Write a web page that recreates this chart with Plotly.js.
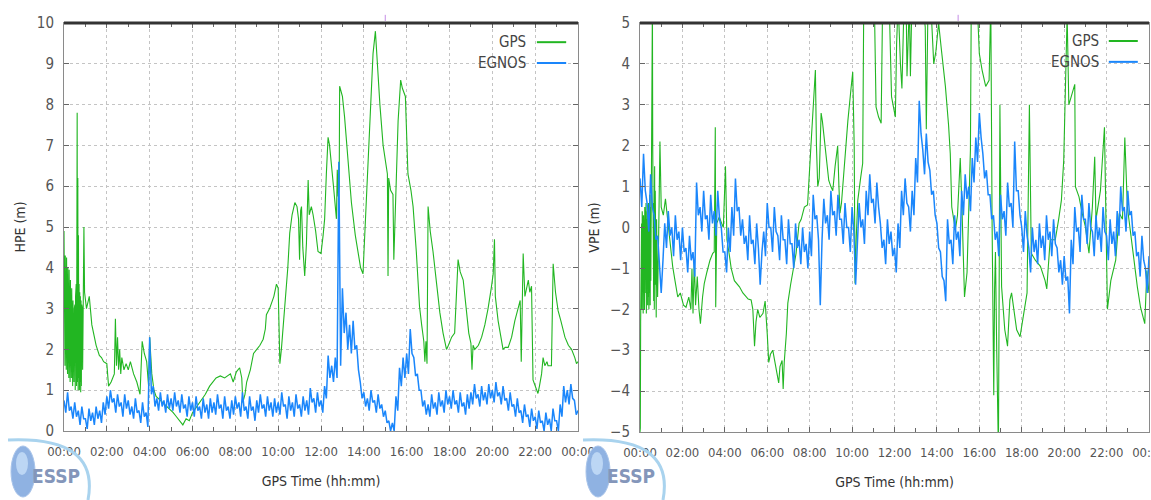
<!DOCTYPE html>
<html>
<head>
<meta charset="utf-8">
<script src="https://cdn.plot.ly/plotly-3.0.1.min.js"></script>
<style>html,body{margin:0;padding:0;background:#fff;}#chart{width:1151px;height:500px;}</style>
</head>
<body>
<div id="chart"></div>
<script>
// ---- tick labels ----
var hourTicks = [0,2,4,6,8,10,12,14,16,18,20,22,24];
var hourLabels = ["00:00","02:00","04:00","06:00","08:00","10:00","12:00","14:00","16:00","18:00","20:00","22:00","00:00"];
var minorTicks = [1,3,5,7,9,11,13,15,17,19,21,23];
var seriesNames = ["GPS","EGNOS"];

// ---- HPE: GPS (irregular times, hours) ----
var gpsHpeT = [0.000,0.015,0.030,0.045,0.060,0.075,0.090,0.105,0.120,0.135,0.150,0.165,0.180,0.195,0.210,0.225,0.240,0.255,0.270,0.285,0.300,0.315,0.330,0.345,0.360,0.375,0.390,0.405,0.420,0.435,0.450,0.465,0.480,0.495,0.510,0.525,0.540,0.555,0.570,0.585,0.600,0.615,0.630,0.645,0.660,0.675,0.690,0.705,0.720,0.735,0.750,0.765,0.780,0.795,0.810,0.825,0.840,0.855,0.870,0.885,0.900,0.93,0.96,1.05,1.18,1.3,1.5,1.65,1.75,1.85,2.0,2.08,2.2,2.35,2.4,2.45,2.5,2.55,2.6,2.65,2.7,2.8,2.9,3.0,3.1,3.25,3.4,3.55,3.65,3.75,3.86,3.95,4.0,4.1,4.2,4.3,4.5,4.7,4.95,5.1,5.25,5.4,5.55,5.7,5.85,6.0,6.2,6.35,6.6,6.8,6.97,7.1,7.3,7.5,7.77,7.9,8.05,8.2,8.3,8.35,8.45,8.53,8.7,8.85,9.0,9.15,9.3,9.4,9.45,9.6,9.8,9.92,10.0,10.08,10.15,10.3,10.45,10.54,10.65,10.78,10.88,10.95,11.0,11.05,11.09,11.15,11.24,11.32,11.4,11.45,11.55,11.63,11.75,11.86,12.0,12.1,12.17,12.25,12.33,12.4,12.48,12.6,12.72,12.76,12.8,12.85,12.87,13.0,13.1,13.25,13.42,13.6,13.73,13.85,13.96,14.1,14.2,14.3,14.43,14.54,14.63,14.75,14.9,15.05,15.1,15.13,15.16,15.25,15.36,15.4,15.5,15.6,15.72,15.8,15.94,16.06,16.2,16.3,16.45,16.6,16.7,16.8,16.85,16.9,16.95,17.0,17.1,17.23,17.4,17.55,17.7,17.86,17.95,18.1,18.24,18.3,18.4,18.5,18.64,18.8,18.9,19.0,19.05,19.1,19.18,19.35,19.5,19.65,19.8,19.95,20.04,20.1,20.14,20.27,20.4,20.5,20.6,20.74,20.9,21.05,21.2,21.3,21.35,21.4,21.44,21.52,21.6,21.68,21.75,21.83,21.9,22.0,22.13,22.2,22.3,22.37,22.45,22.55,22.6,22.76,22.84,22.95,23.07,23.2,23.39,23.55,23.7,23.85,23.93,24.0];
var gpsHpeV = [4.9,1.9,4.4,1.6,4.3,2.1,4.2,1.5,4.25,1.8,4.1,1.4,4.0,2.0,3.9,1.3,3.95,1.7,3.8,1.2,3.7,1.9,3.6,1.3,3.5,1.6,3.3,1.1,3.2,1.8,3.1,1.2,3.0,1.5,3.1,1.0,3.3,1.4,3.6,1.1,4.5,7.8,1.2,6.2,1.0,4.8,1.3,3.6,1.0,3.4,1.2,3.3,0.95,3.2,1.1,3.1,1.3,3.0,1.5,3.2,2.0,5.0,3.4,3.0,3.3,2.6,2.1,1.85,1.8,1.7,1.65,1.1,1.2,1.4,2.75,1.6,2.3,1.5,2.0,1.4,1.8,1.5,1.65,1.5,1.7,1.4,1.2,0.9,2.2,1.9,1.7,1.1,2.3,1.4,1.0,0.85,0.75,0.65,0.5,0.45,0.35,0.25,0.15,0.3,0.25,0.45,0.6,0.7,0.9,1.1,1.2,1.3,1.35,1.3,1.4,1.2,1.45,1.55,1.3,0.7,0.9,1.2,1.5,1.9,2.0,2.1,2.25,2.5,2.85,3.0,3.3,3.6,3.5,1.65,2.0,3.0,4.0,4.85,5.3,5.6,5.5,5.2,4.2,5.4,5.5,4.5,3.8,4.6,6.15,5.3,5.5,5.3,4.9,4.4,4.35,4.8,5.2,6.3,7.2,7.0,6.6,5.9,5.2,6.4,5.75,6.0,8.45,8.2,7.7,6.6,5.6,4.8,4.35,4.0,3.85,5.5,6.8,8.0,9.25,9.8,8.9,8.0,7.0,6.55,6.3,3.8,6.2,5.9,5.8,4.2,6.0,7.6,8.6,8.4,8.2,6.3,5.9,5.5,4.4,3.05,2.6,2.2,1.7,2.2,1.65,5.5,4.9,4.4,3.6,2.9,2.4,2.0,2.1,2.3,2.4,3.0,4.2,3.9,3.7,2.9,2.4,2.15,1.5,2.1,2.0,2.1,2.3,2.6,3.0,3.5,3.85,4.7,3.3,2.7,2.3,2.0,2.05,2.05,2.3,2.7,3.0,3.2,1.7,3.6,4.35,3.3,3.5,3.7,3.4,3.55,1.25,1.1,0.92,1.1,1.4,1.8,1.6,1.7,1.6,1.6,4.1,3.4,2.95,2.7,2.3,2.1,2.0,1.8,1.65,1.7];

// ---- HPE: EGNOS (one value every 5 minutes, 00:00 .. 24:00) ----
var egnosHpe = [
 0.75,0.45,0.95,0.5,0.6,0.3,0.7,0.35,0.5,0.15,0.6,0.3,
 0.3,0.05,0.55,0.25,0.45,0.15,0.6,0.3,0.5,0.2,0.7,0.4,
 0.85,0.55,1.0,0.7,0.8,0.45,0.9,0.6,0.7,0.35,0.9,0.55,
 0.75,0.4,0.6,0.3,0.8,0.45,0.5,0.2,0.7,0.35,0.45,0.1,
 2.3,0.9,1.1,0.6,0.8,0.5,0.95,0.6,0.75,0.45,0.9,0.55,
 0.8,0.5,0.95,0.6,0.75,0.45,0.9,0.55,0.65,0.35,0.85,0.5,
 0.7,0.35,0.85,0.5,0.6,0.3,0.8,0.45,0.65,0.3,0.8,0.45,
 0.7,0.4,0.9,0.55,0.65,0.3,0.85,0.5,0.6,0.3,0.75,0.4,
 0.85,0.55,0.7,0.35,0.95,0.5,0.6,0.3,0.85,0.5,0.6,0.25,
 0.75,0.45,0.9,0.55,0.65,0.35,0.85,0.5,0.7,0.35,0.8,0.45,
 0.7,0.4,0.95,0.6,0.65,0.3,0.85,0.5,0.7,0.35,0.9,0.55,
 0.65,0.35,0.85,0.5,0.75,0.4,1.05,0.7,0.8,0.45,0.95,0.6,
 0.75,0.45,1.1,0.8,1.85,1.3,1.6,1.2,1.8,1.3,6.6,1.6,
 3.5,2.4,2.9,2.0,2.6,1.9,2.7,2.0,2.1,1.5,1.2,0.8,
 0.95,0.6,0.8,0.5,1.0,0.7,0.75,0.45,0.9,0.55,0.65,0.35,
 0.5,0.2,0.25,0.0,0.2,0.0,0.85,0.5,1.55,1.1,1.8,1.3,
 1.9,1.4,2.5,1.9,1.8,1.35,1.4,1.0,1.0,0.6,0.75,0.4,
 0.65,0.35,0.9,0.55,0.7,0.4,0.95,0.6,0.75,0.45,1.0,0.65,
 0.85,0.55,1.0,0.65,0.75,0.45,0.95,0.6,0.7,0.4,0.9,0.55,
 0.95,0.65,1.15,0.8,0.9,0.6,1.1,0.75,0.95,0.65,1.15,0.8,
 1.0,0.7,1.2,0.85,0.95,0.65,1.1,0.75,0.8,0.5,0.95,0.6,
 0.65,0.35,0.8,0.45,0.5,0.2,0.65,0.35,0.4,0.1,0.55,0.25,
 0.35,0.05,0.5,0.2,0.25,0.0,0.45,0.15,0.3,0.0,0.55,0.25,
 0.25,0.0,0.65,0.35,1.1,0.7,1.0,0.65,1.15,0.8,0.75,0.4,
 0.5];

// ---- VPE: GPS (irregular times, hours) ----
var gpsVpeT = [0.000,0.015,0.030,0.045,0.060,0.075,0.090,0.105,0.120,0.135,0.150,0.165,0.180,0.195,0.210,0.225,0.240,0.255,0.270,0.285,0.300,0.315,0.330,0.345,0.360,0.375,0.390,0.405,0.420,0.435,0.450,0.465,0.480,0.495,0.510,0.525,0.540,0.555,0.570,0.585,0.600,0.615,0.630,0.645,0.660,0.675,0.690,0.705,0.720,0.735,0.750,0.765,0.780,0.795,0.810,0.830,0.88,0.94,1.0,1.1,1.2,1.3,1.4,1.54,1.65,1.78,1.9,2.05,2.17,2.3,2.4,2.45,2.5,2.56,2.62,2.7,2.78,2.85,2.95,3.03,3.15,3.3,3.43,3.5,3.55,3.57,3.62,3.74,3.85,3.93,4.03,4.1,4.2,4.3,4.45,4.6,4.69,4.85,5.0,5.1,5.24,5.32,5.4,5.47,5.55,5.65,5.8,5.9,6.0,6.07,6.15,6.26,6.33,6.4,6.48,6.54,6.6,6.7,6.75,6.8,6.9,6.97,7.1,7.2,7.36,7.5,7.6,7.75,7.9,8.06,8.17,8.27,8.32,8.38,8.45,8.54,8.6,8.7,8.8,8.9,9.0,9.09,9.2,9.32,9.38,9.43,9.5,9.56,9.7,9.8,9.95,10.03,10.1,10.14,10.2,10.27,10.4,10.5,10.55,10.7,10.9,11.05,11.13,11.25,11.37,11.44,11.6,11.75,11.86,11.95,12.04,12.1,12.17,12.28,12.35,12.45,12.55,12.59,12.7,12.75,12.82,13.0,13.15,13.3,13.45,13.5,13.58,13.7,13.85,13.95,14.08,14.2,14.4,14.55,14.63,14.7,14.87,14.97,15.03,15.1,15.18,15.3,15.42,15.5,15.58,15.62,15.8,15.9,16.0,16.13,16.3,16.46,16.54,16.6,16.68,16.72,16.76,16.82,16.86,16.9,16.93,16.97,17.05,17.2,17.33,17.44,17.52,17.6,17.76,17.92,18.1,18.25,18.36,18.45,18.64,18.88,19.1,19.18,19.34,19.58,19.74,19.87,19.98,20.06,20.14,20.22,20.38,20.5,20.53,20.7,20.85,21.0,21.17,21.33,21.44,21.5,21.71,21.9,22.04,22.2,22.43,22.6,22.75,22.86,22.98,23.2,23.45,23.6,23.8,23.9,24.0];
var gpsVpeV = [-5.0,-4.9,-2.3,-0.9,-2.2,0.1,-2.0,0.4,-1.9,-0.2,-2.1,0.3,-1.7,-0.4,-2.0,0.5,-1.8,0.0,-1.6,0.6,-2.1,0.2,-1.5,0.4,-1.9,-0.1,-1.7,0.6,-2.0,0.3,-1.6,0.8,-1.9,0.5,-1.3,1.2,-1.0,3.0,5.5,5.5,2.0,-1.6,1.0,-1.8,0.6,-2.0,1.5,-1.4,0.9,-1.9,0.4,-2.2,0.2,-1.7,-0.3,-1.7,-0.2,2.1,0.5,0.3,0.7,0.2,-0.4,-0.95,-1.3,-1.7,-1.6,-1.9,-1.95,-1.7,-2.0,-1.0,-2.1,-0.8,-1.9,-1.2,-2.0,-2.35,-1.7,-1.37,-1.1,-0.8,-0.63,-0.6,2.45,-1.95,0.1,0.26,0.1,0.0,1.5,-0.3,-0.63,-1.0,-1.3,-1.4,-1.45,-1.6,-1.7,-1.75,-1.77,-2.0,-2.9,-2.3,-2.0,-2.2,-2.1,-1.8,-2.6,-3.3,-3.1,-3.0,-3.2,-3.4,-3.6,-3.8,-3.4,-3.25,-3.95,-3.3,-2.6,-1.85,-1.4,-1.1,-0.63,0.1,0.2,0.5,0.55,2.0,3.05,3.85,2.0,1.0,1.2,2.8,2.6,2.15,1.6,1.15,1.0,0.9,1.5,2.0,1.0,0.35,0.6,1.0,2.0,2.6,3.4,3.8,2.0,-1.37,-0.2,0.67,1.2,1.57,5.5,6.0,5.8,5.5,2.95,2.7,2.55,5.5,6.0,5.5,3.2,2.9,2.7,4.5,5.5,4.0,3.4,5.5,5.5,3.7,5.5,3.7,5.5,5.6,5.5,5.6,4.9,2.4,5.5,5.6,4.0,4.3,5.0,4.4,3.45,2.5,1.8,0.5,-0.06,0.3,0.83,1.7,0.5,-1.7,-1.1,0.3,1.9,5.5,5.6,5.5,4.25,3.85,3.45,3.6,5.5,0.2,-4.1,-1.5,-0.6,-3.0,-5.5,-5.5,-2.0,3.0,-1.45,-2.5,-2.9,-1.77,-1.6,-1.95,-2.5,-2.67,-2.1,-1.6,3.0,-0.63,-0.8,-0.95,-1.3,-1.5,-0.3,-0.3,0.2,0.67,1.65,3.45,5.2,3.0,3.3,3.5,1.0,0.75,0.35,0.02,-0.63,0.5,1.73,0.2,0.9,2.45,-2.0,-1.3,-0.8,0.35,0.2,2.2,0.5,-0.47,-1.45,-1.95,-2.35,-1.05,-1.6];

// ---- VPE: EGNOS (one value every 5 minutes, 00:00 .. 24:00) ----
var egnosVpe = [
 1.2,0.5,1.8,0.9,0.6,-0.1,1.3,0.5,0.3,-0.3,-0.2,-0.9,
 -1.6,-0.8,0.1,-0.5,0.4,-0.2,0.0,-0.7,0.3,-0.3,-0.1,-0.8,
 0.0,-0.6,-0.5,-1.1,-0.2,-0.8,-0.6,-1.2,1.1,0.3,0.5,-0.1,
 0.9,0.2,0.3,-0.3,0.8,0.1,0.4,-0.2,0.9,0.2,0.0,-0.6,
 -0.6,-1.1,0.0,-0.6,0.5,-0.2,1.2,0.4,0.5,-0.2,0.2,-0.4,
 -0.2,-0.8,0.3,-0.4,-0.3,-0.9,0.1,-0.5,-1.4,-0.6,-0.1,-0.7,
 0.6,0.0,0.0,-0.6,0.5,-0.1,-0.2,-0.8,0.3,-0.3,-0.3,-0.9,
 0.2,-0.4,-0.4,-1.0,0.1,-0.5,-0.3,-0.9,0.0,-0.6,-0.4,-1.0,
 -0.1,-0.7,0.8,0.2,0.3,-0.3,-1.9,-0.3,0.7,0.1,0.3,-0.3,
 0.9,0.3,0.4,-0.2,0.8,0.2,0.2,-0.4,0.6,0.0,0.0,-0.6,
 0.5,-0.1,-1.4,-0.4,0.6,0.0,0.2,-0.4,0.9,0.3,1.3,0.6,
 0.7,0.1,1.1,0.5,0.1,-0.5,-0.3,-0.9,0.2,-0.4,-0.1,-0.7,
 -0.5,-1.1,0.1,-0.5,0.9,0.3,1.2,0.6,0.5,-0.1,0.9,0.3,
 1.7,1.1,3.1,2.3,1.9,1.3,2.3,1.6,1.4,0.8,0.9,0.3,
 0.1,-0.5,-0.6,-1.2,-1.3,-1.8,0.2,-0.4,-0.3,-0.9,0.3,-0.3,
 -0.1,-0.7,0.9,0.3,1.3,0.7,1.0,0.4,1.7,1.1,2.2,1.6,
 2.8,2.2,1.8,1.2,1.4,0.8,0.8,0.2,0.3,-0.3,-0.1,-0.7,
 0.8,0.2,0.4,-0.2,1.1,0.5,0.6,0.0,2.1,0.9,0.9,0.3,
 0.0,-0.6,0.4,-0.2,-0.5,-1.1,0.0,-0.6,-0.3,-0.9,0.1,-0.5,
 -0.2,-0.8,0.3,-0.3,-0.1,-0.7,0.2,-0.4,-0.5,-1.1,-0.8,-1.4,
 -0.7,-1.3,-1.2,-2.1,-0.3,-0.9,0.5,-0.1,0.0,-0.6,0.8,0.2,
 0.2,-0.4,0.6,0.0,-0.1,-0.7,0.3,-0.3,0.0,-0.6,0.5,-0.1,
 -0.2,-0.8,0.2,-0.4,-0.1,-0.7,0.4,-0.2,1.0,0.4,0.5,-0.1,
 0.9,0.3,0.4,-0.2,-0.1,-0.7,-0.6,-1.2,-0.2,-0.8,-1.0,-1.6,
 -0.7];

// sampling grid for the 5-minute series
function fiveMinGrid(n){ var t=[]; for(var i=0;i<n;i++){ t.push(i/12); } return t; }

var GREEN = '#22b622', BLUE = '#1a86fb';
var FONT = 'DejaVu Sans Condensed, Liberation Sans Narrow, Arial Narrow, sans-serif';
var TXT = '#555555';

var traces = [
  {x: gpsHpeT, y: gpsHpeV, name: seriesNames[0], type: 'scatter', mode: 'lines', line: {color: GREEN, width: 1.1}, xaxis: 'x', yaxis: 'y'},
  {x: fiveMinGrid(egnosHpe.length), y: egnosHpe, name: seriesNames[1], type: 'scatter', mode: 'lines', line: {color: BLUE, width: 1.5}, xaxis: 'x', yaxis: 'y'},
  {x: gpsVpeT, y: gpsVpeV, name: seriesNames[0], type: 'scatter', mode: 'lines', line: {color: GREEN, width: 1.1}, xaxis: 'x2', yaxis: 'y2'},
  {x: fiveMinGrid(egnosVpe.length), y: egnosVpe, name: seriesNames[1], type: 'scatter', mode: 'lines', line: {color: BLUE, width: 1.5}, xaxis: 'x2', yaxis: 'y2'}
];

function xAxis(domain, anchor){
  return {
    domain: domain, anchor: anchor, range: [0,24], fixedrange: true,
    tickmode: 'array', tickvals: hourTicks, ticktext: hourLabels,
    ticks: 'inside', ticklen: 5, tickcolor: '#666', tickwidth: 1,
    minor: {tickmode: 'array', tickvals: minorTicks, ticks: 'inside', ticklen: 4, tickcolor: '#666', showgrid: false},
    showline: true, linecolor: '#8a8a8a', linewidth: 1, mirror: 'allticks',
    showgrid: true, gridcolor: '#c4c4c4', griddash: 'dot', gridwidth: 1,
    zeroline: false, ticklabeloverflow: 'allow',
    tickfont: {family: FONT, size: 13, color: TXT},
    ticklabelstandoff: 8,
    title: {text: 'GPS Time (hh:mm)', font: {family: FONT, size: 14, color: '#333'}, standoff: 18}
  };
}
function yAxis(domain, anchor, range, title){
  return {
    domain: domain, anchor: anchor, range: range, fixedrange: true,
    tickmode: 'linear', tick0: range[0], dtick: 1,
    ticks: 'inside', ticklen: 5, tickcolor: '#666', tickwidth: 1,
    showline: true, linecolor: '#8a8a8a', linewidth: 1, mirror: 'allticks',
    showgrid: true, gridcolor: '#c4c4c4', griddash: 'dot', gridwidth: 1,
    zeroline: false,
    tickfont: {family: FONT, size: 15, color: TXT},
    ticklabelstandoff: 6,
    title: {text: title, font: {family: FONT, size: 14, color: '#333'}, standoff: 7}
  };
}

var W = 1151, H = 500;
function px(v){ return v / W; }
function py(v){ return 1 - v / H; }

var shapes = [], annotations = [];
// thick top frame lines and small marker at 15:00
[['x','y'],['x2','y2']].forEach(function(a){
  shapes.push({type:'line', xref: a[0]+' domain', yref: a[1]+' domain', x0:0, x1:1, y0:1, y1:1, line:{color:'#333', width:3}, layer:'above'});
  shapes.push({type:'line', xref: a[0], yref: a[1]+' domain', x0:15, x1:15, y0:1.005, y1:1.02, line:{color:'#c58ce6', width:1}, layer:'above'});
});
// custom legends (text left of line sample)
var legendSpec = [
  {xa:'x', ya:'y', tx:0.903, l0:0.92, l1:0.977, y1:0.953, y2:0.902},
  {xa:'x2', ya:'y2', tx:0.906, l0:0.921, l1:0.978, y1:0.956, y2:0.905}
];
legendSpec.forEach(function(s){
  var ys = [s.y1, s.y2], cols = [GREEN, BLUE];
  for (var k=0;k<2;k++){
    annotations.push({xref: s.xa+' domain', yref: s.ya+' domain', x: s.tx, y: ys[k], xanchor:'right', yanchor:'middle', text: seriesNames[k], showarrow:false, font:{family: FONT, size: 15, color:'#444'}});
    shapes.push({type:'line', xref: s.xa+' domain', yref: s.ya+' domain', x0: s.l0, x1: s.l1, y0: ys[k], y1: ys[k], line:{color: cols[k], width: 2}});
  }
});
// ESSP logos
[0, 575].forEach(function(dx){
  shapes.push({type:'path', xref:'paper', yref:'paper',
    path: 'M '+px(8+dx)+','+py(440)+' Q '+px(100+dx)+','+py(436)+' '+px(88+dx)+','+py(500),
    line:{color:'#a9d3ee', width:3}, fillcolor:'rgba(0,0,0,0)'});
  shapes.push({type:'circle', xref:'paper', yref:'paper', x0:px(11+dx), x1:px(35+dx), y0:py(497), y1:py(446), fillcolor:'#8fb2e2', line:{color:'#a8c4ea', width:1}});
  shapes.push({type:'circle', xref:'paper', yref:'paper', x0:px(16+dx), x1:px(28+dx), y0:py(475), y1:py(452), fillcolor:'#bcd6f4', line:{width:0}});
  annotations.push({xref:'paper', yref:'paper', x:px(56+dx), y:py(476), xanchor:'center', yanchor:'middle', text:'<b>ESSP</b>', showarrow:false, font:{family: FONT, size: 19, color:'#8496ba'}});
});

var layout = {
  width: W, height: H,
  margin: {l:0, r:0, t:0, b:0},
  paper_bgcolor: '#ffffff', plot_bgcolor: '#ffffff',
  showlegend: false,
  xaxis: xAxis([px(64), px(578)], 'y'),
  yaxis: yAxis([1-431/H, 1-23/H], 'x', [0,10], 'HPE (m)'),
  xaxis2: xAxis([px(640), px(1149)], 'y2'),
  yaxis2: yAxis([1-432/H, 1-23/H], 'x2', [-5,5], 'VPE (m)'),
  shapes: shapes,
  annotations: annotations
};

Plotly.newPlot('chart', traces, layout, {displayModeBar: false, staticPlot: true});
</script>
</body>
</html>
